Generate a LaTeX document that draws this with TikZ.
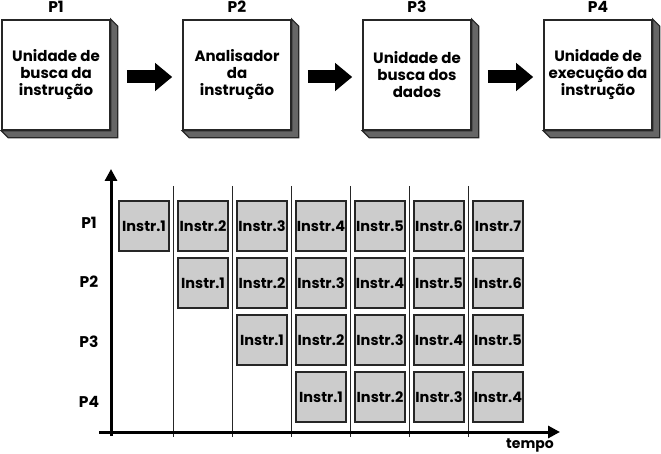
\documentclass[tikz,border=0pt]{standalone}
\usepackage{fontspec}
\setmainfont{Poppins}
\usetikzlibrary{arrows.meta,positioning}
\definecolor{SideClr}{gray}{0.4}
\definecolor{CellClr}{gray}{0.8}
\definecolor{EdgeClr}{gray}{0.15}

\tikzset{
  unit/.style={draw=EdgeClr,line width=1.6pt,fill=white,minimum width=108pt,
    minimum height=110pt,inner sep=0pt,align=center,
    font=\fontsize{15}{17}\selectfont\bfseries},
  side/.style={draw=EdgeClr,line width=1.2pt,fill=SideClr},
  cell/.style={draw=EdgeClr,line width=1.6pt,fill=CellClr,minimum size=50pt,
    inner sep=0pt,font=\fontsize{14.5}{16}\selectfont\bfseries},
  lbl/.style={inner sep=0pt,font=\fontsize{15.5}{17}\selectfont\bfseries},
  flow/.style={line width=13pt,-{Triangle[length=17pt,width=27pt]}},
  axis/.style={line width=3pt,-{Triangle[length=12pt,width=12pt]}},
  slot/.style={line width=1.9pt,draw=EdgeClr},
}

\begin{document}
\begin{tikzpicture}[x=1pt,y=-1pt]
\useasboundingbox (0,0) rectangle (661,454);

\node[unit] (u1) at (56,75) {Unidade de\\busca da\\instrução};
\node[unit] (u2) at (237,75) {Analisador\\da\\instrução};
\node[unit] (u3) at (417,75) {Unidade de\\busca dos\\dados};
\node[unit] (u4) at (598,75) {Unidade de\\execução da\\instrução};

\foreach \u in {u1,u2,u3,u4}
  \draw[side] (\u.north east) -- ++(7,7) -- ([shift={(7,7)}]\u.south east)
    -- ([shift={(7,7)}]\u.south west) -- (\u.south west) -- (\u.south east) -- cycle;

\node[lbl,above=6pt of u1] (t1) {P1};
\node[lbl,above=6pt of u2] (t2) {P2};
\node[lbl,above=6pt of u3] (t3) {P3};
\node[lbl,above=6pt of u4] (t4) {P4};

\draw[flow] ([shift={(16,2)}]u1.east) -- ([shift={(-10,2)}]u2.west);
\draw[flow] ([shift={(16,2)}]u2.east) -- ([shift={(-10,2)}]u3.west);
\draw[flow] ([shift={(16,2)}]u3.east) -- ([shift={(-10,2)}]u4.west);

\coordinate (O) at (111,432);
\coordinate (ytip) at (111,169);
\coordinate (xstart) at (99,432);
\coordinate (xtip) at (560,432);

\draw[slot] (173.5,186) -- (173.5,437);
\draw[slot] (232.5,186) -- (232.5,437);
\draw[slot] (291.5,186) -- (291.5,437);
\draw[slot] (350.5,186) -- (350.5,437);
\draw[slot] (409.5,186) -- (409.5,437);
\draw[slot] (468.5,186) -- (468.5,437);

\draw[axis] ([yshift=-4pt]O) -- (ytip);
\draw[axis] (xstart) -- (xtip);

\node[lbl] (r1) at (89,223) {P1};
\node[lbl] (r2) at (89,282) {P2};
\node[lbl] (r3) at (89,342) {P3};
\node[lbl] (r4) at (89,402) {P4};
\node[lbl,font=\fontsize{14}{16}\selectfont\bfseries] (tempo) at (530,446) {tempo};

\node[cell] (c11) at (144,226) {Instr.1};
\node[cell] (c12) at (203,226) {Instr.2};
\node[cell] (c13) at (262,226) {Instr.3};
\node[cell] (c14) at (321,226) {Instr.4};
\node[cell] (c15) at (380,226) {Instr.5};
\node[cell] (c16) at (439,226) {Instr.6};
\node[cell] (c17) at (498,226) {Instr.7};

\node[cell] (c22) at (203,283) {Instr.1};
\node[cell] (c23) at (262,283) {Instr.2};
\node[cell] (c24) at (321,283) {Instr.3};
\node[cell] (c25) at (380,283) {Instr.4};
\node[cell] (c26) at (439,283) {Instr.5};
\node[cell] (c27) at (498,283) {Instr.6};

\node[cell] (c33) at (262,340) {Instr.1};
\node[cell] (c34) at (321,340) {Instr.2};
\node[cell] (c35) at (380,340) {Instr.3};
\node[cell] (c36) at (439,340) {Instr.4};
\node[cell] (c37) at (498,340) {Instr.5};

\node[cell] (c44) at (321,397) {Instr.1};
\node[cell] (c45) at (380,397) {Instr.2};
\node[cell] (c46) at (439,397) {Instr.3};
\node[cell] (c47) at (498,397) {Instr.4};
\end{tikzpicture}
\end{document}
